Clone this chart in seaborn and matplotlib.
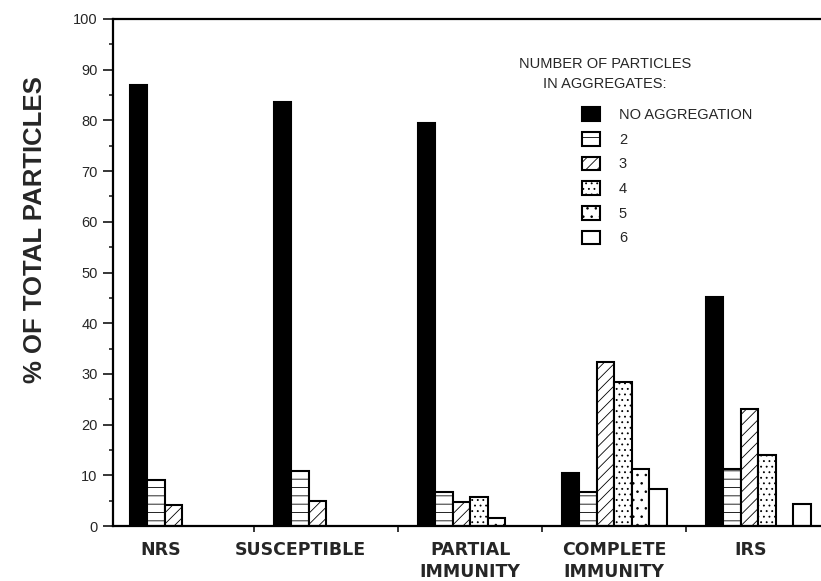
import numpy as np
import pandas as pd
import matplotlib
matplotlib.use("Agg")
import matplotlib.pyplot as plt
from matplotlib.patches import Patch
from matplotlib.ticker import MultipleLocator
import seaborn as sns

# values (% of total particles)
groups = ["NRS", "SUSCEPTIBLE", "PARTIAL\nIMMUNITY", "COMPLETE\nIMMUNITY", "IRS"]
sizes = ["NO AGGREGATION", "2", "3", "4", "5", "6"]
no_aggregation = [87.0, 83.7, 79.4, 10.4, 45.2]
size_2 = [9.0, 10.8, 6.8, 6.7, 11.2]
size_3 = [4.1, 4.9, 4.7, 32.4, 23.0]
size_4 = [0.0, 0.0, 5.7, 28.4, 14.1]
size_5 = [0.0, 0.0, 1.6, 11.3, 0.0]
size_6 = [0.0, 0.0, 0.0, 7.2, 4.3]

series = [no_aggregation, size_2, size_3, size_4, size_5, size_6]
df = pd.DataFrame({
    "group": groups * len(sizes),
    "size": [s for s in sizes for _ in groups],
    "pct": [v for vals in series for v in vals],
})

# styling
hatches = [None, "--", "///", "...", "..", None]
hatch_cols = ["black", "black", "0.35", "0.6", "0.6", "black"]
fills = ["black", "white", "white", "white", "white", "white"]
label_shift = [-0.15, -0.18, 0.0, 0.0, -0.05]

sns.set_style("ticks")
plt.rcParams["font.family"] = ["Liberation Sans", "DejaVu Sans"]
plt.rcParams["hatch.linewidth"] = 0.6

fig = plt.figure(figsize=(8.21, 5.81), dpi=100)
ax = fig.add_axes([113 / 821, 55 / 581, 713 / 821, 507 / 581])

sns.barplot(data=df, x="group", y="pct", hue="size", order=groups,
            hue_order=sizes, palette=fills, width=0.73, edgecolor="black",
            linewidth=1.5, saturation=1, legend=False, ax=ax)


def style_patch(p, h, hc):
    if h:
        p.set_hatch(h)
        if hasattr(p, "set_hatchcolor"):
            p.set_hatchcolor(hc)


for cont, h, hc in zip(ax.containers, hatches, hatch_cols):
    for bar in cont:
        style_patch(bar, h, hc)
        if bar.get_height() == 0:
            bar.set_visible(False)

ax.set_xlim(-0.48, 4.47)
ax.set_ylim(0, 100)

# y axis
ax.yaxis.set_major_locator(MultipleLocator(10))
ax.yaxis.set_minor_locator(MultipleLocator(5))
ax.tick_params(axis="y", which="major", length=7, width=1.3, labelsize=10.5, pad=4)
ax.tick_params(axis="y", which="minor", length=3, width=1.2)
ax.set_ylabel("% OF TOTAL PARTICLES", fontsize=18.5, fontweight="bold")
ax.yaxis.set_label_coords(-0.092, 0.585)

# x axis: labels under groups, small ticks at group boundaries
ax.set_xticks([i + s for i, s in enumerate(label_shift)])
ax.set_xticklabels(groups, family=["DejaVu Sans"], fontweight="bold",
                   fontsize=12.5, linespacing=1.3)
ax.set_xticks([0.5, 1.5, 2.5, 3.5], minor=True)
ax.tick_params(axis="x", which="major", length=0, pad=11)
ax.tick_params(axis="x", which="minor", length=4, width=1.3)
ax.set_xlabel("")

for side in ["left", "bottom", "top"]:
    ax.spines[side].set_linewidth(1.6)
    ax.spines[side].set_color("black")
ax.spines["right"].set_visible(False)

# legend
handles = []
for f, h, hc in zip(fills, hatches, hatch_cols):
    p = Patch(facecolor=f, edgecolor="black", linewidth=1.5)
    style_patch(p, h, hc)
    handles.append(p)
ax.legend(handles, sizes, loc="upper left", bbox_to_anchor=(0.648, 0.84),
          frameon=False, fontsize=10.5, handlelength=1.2, handleheight=1.05,
          handletextpad=1.3, labelspacing=0.68, borderpad=0)
ax.text(0.69, 0.892, "NUMBER OF PARTICLES\nIN AGGREGATES:", transform=ax.transAxes,
        ha="center", va="center", fontsize=10.5, linespacing=1.5)

fig.savefig("out.png", dpi=100)
